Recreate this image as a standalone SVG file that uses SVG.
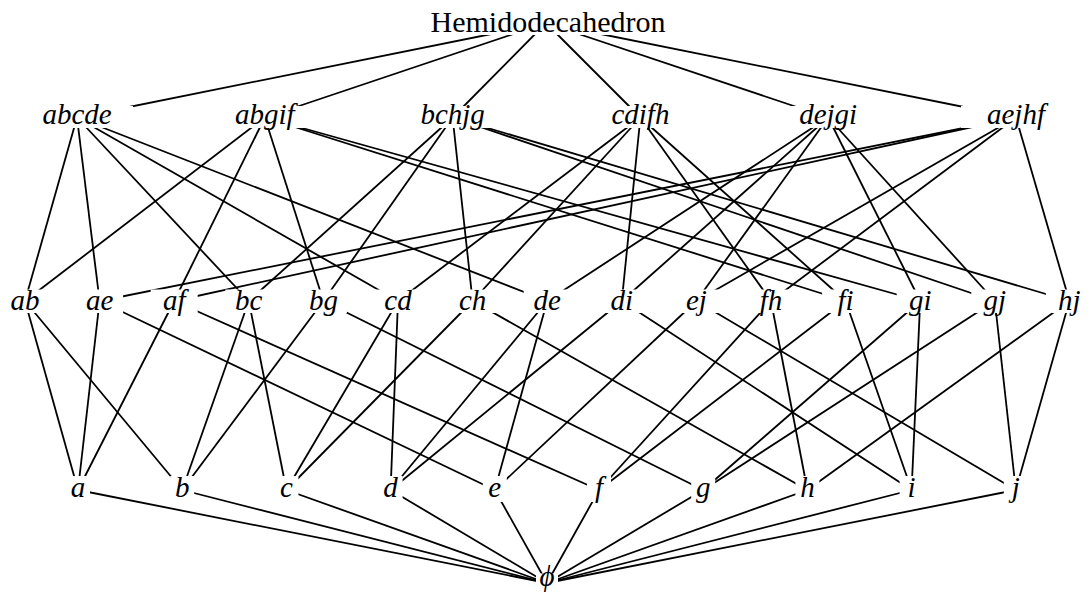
<svg xmlns="http://www.w3.org/2000/svg" width="1088" height="596" viewBox="0 0 1088 596">
<style>
.c line{stroke:#000;stroke-width:1.8;stroke-linecap:butt}
rect.bg{fill:#fff;stroke:none}
text{font-family:"Liberation Serif","Times New Roman",serif;font-size:29px;text-anchor:middle;fill:#000}
text.it{font-style:italic}
</style>
<rect width="1088" height="596" fill="#fff"/>
<g id="connectors" class="c">
<!-- top to faces -->
<line x1="546" y1="23" x2="77" y2="117.5"/>
<line x1="546" y1="23" x2="264.8" y2="117.5"/>
<line x1="546" y1="23" x2="452.6" y2="117.5"/>
<line x1="546" y1="23" x2="640.4" y2="117.5"/>
<line x1="546" y1="23" x2="828.2" y2="117.5"/>
<line x1="546" y1="23" x2="1016" y2="117.5"/>
<!-- abcde -->
<line x1="77" y1="117.5" x2="25" y2="301"/>
<line x1="77" y1="117.5" x2="99.6" y2="301"/>
<line x1="77" y1="117.5" x2="248.8" y2="301"/>
<line x1="77" y1="117.5" x2="398" y2="301"/>
<line x1="77" y1="117.5" x2="547.2" y2="301"/>
<!-- abgif -->
<line x1="264.8" y1="117.5" x2="25" y2="301"/>
<line x1="264.8" y1="117.5" x2="174.2" y2="301"/>
<line x1="264.8" y1="117.5" x2="323.4" y2="301"/>
<line x1="264.8" y1="117.5" x2="845.6" y2="301"/>
<line x1="264.8" y1="117.5" x2="920.2" y2="301"/>
<!-- bchjg -->
<line x1="452.6" y1="117.5" x2="248.8" y2="301"/>
<line x1="452.6" y1="117.5" x2="323.4" y2="301"/>
<line x1="452.6" y1="117.5" x2="472.6" y2="301"/>
<line x1="452.6" y1="117.5" x2="994.8" y2="301"/>
<line x1="452.6" y1="117.5" x2="1069.4" y2="301"/>
<!-- cdifh -->
<line x1="640.4" y1="117.5" x2="398" y2="301"/>
<line x1="640.4" y1="117.5" x2="472.6" y2="301"/>
<line x1="640.4" y1="117.5" x2="621.8" y2="301"/>
<line x1="640.4" y1="117.5" x2="771" y2="301"/>
<line x1="640.4" y1="117.5" x2="845.6" y2="301"/>
<!-- dejgi -->
<line x1="828.2" y1="117.5" x2="547.2" y2="301"/>
<line x1="828.2" y1="117.5" x2="621.8" y2="301"/>
<line x1="828.2" y1="117.5" x2="696.4" y2="301"/>
<line x1="828.2" y1="117.5" x2="920.2" y2="301"/>
<line x1="828.2" y1="117.5" x2="994.8" y2="301"/>
<!-- aejhf -->
<line x1="1016" y1="117.5" x2="99.6" y2="301"/>
<line x1="1016" y1="117.5" x2="174.2" y2="301"/>
<line x1="1016" y1="117.5" x2="696.4" y2="301"/>
<line x1="1016" y1="117.5" x2="771" y2="301"/>
<line x1="1016" y1="117.5" x2="1069.4" y2="301"/>
<!-- edges to vertices -->
<line x1="25" y1="301" x2="78" y2="490"/>
<line x1="25" y1="301" x2="182.2" y2="490"/>
<line x1="99.6" y1="301" x2="78" y2="490"/>
<line x1="99.6" y1="301" x2="494.8" y2="490"/>
<line x1="174.2" y1="301" x2="78" y2="490"/>
<line x1="174.2" y1="301" x2="599" y2="490"/>
<line x1="248.8" y1="301" x2="182.2" y2="490"/>
<line x1="248.8" y1="301" x2="286.4" y2="490"/>
<line x1="323.4" y1="301" x2="182.2" y2="490"/>
<line x1="323.4" y1="301" x2="703.2" y2="490"/>
<line x1="398" y1="301" x2="286.4" y2="490"/>
<line x1="398" y1="301" x2="390.6" y2="490"/>
<line x1="472.6" y1="301" x2="286.4" y2="490"/>
<line x1="472.6" y1="301" x2="807.4" y2="490"/>
<line x1="547.2" y1="301" x2="390.6" y2="490"/>
<line x1="547.2" y1="301" x2="494.8" y2="490"/>
<line x1="621.8" y1="301" x2="390.6" y2="490"/>
<line x1="621.8" y1="301" x2="911.6" y2="490"/>
<line x1="696.4" y1="301" x2="494.8" y2="490"/>
<line x1="696.4" y1="301" x2="1015.8" y2="490"/>
<line x1="771" y1="301" x2="599" y2="490"/>
<line x1="771" y1="301" x2="807.4" y2="490"/>
<line x1="845.6" y1="301" x2="599" y2="490"/>
<line x1="845.6" y1="301" x2="911.6" y2="490"/>
<line x1="920.2" y1="301" x2="703.2" y2="490"/>
<line x1="920.2" y1="301" x2="911.6" y2="490"/>
<line x1="994.8" y1="301" x2="703.2" y2="490"/>
<line x1="994.8" y1="301" x2="1015.8" y2="490"/>
<line x1="1069.4" y1="301" x2="807.4" y2="490"/>
<line x1="1069.4" y1="301" x2="1015.8" y2="490"/>
<!-- vertices to phi -->
<line x1="78" y1="490" x2="547" y2="583"/>
<line x1="182.2" y1="490" x2="547" y2="583"/>
<line x1="286.4" y1="490" x2="547" y2="583"/>
<line x1="390.6" y1="490" x2="547" y2="583"/>
<line x1="494.8" y1="490" x2="547" y2="583"/>
<line x1="599" y1="490" x2="547" y2="583"/>
<line x1="703.2" y1="490" x2="547" y2="583"/>
<line x1="807.4" y1="490" x2="547" y2="583"/>
<line x1="911.6" y1="490" x2="547" y2="583"/>
<line x1="1015.8" y1="490" x2="547" y2="583"/>
</g>
<g id="top"><rect class="bg" x="426" y="8" width="244" height="27"/><text x="548" y="32" style="font-size:30px">Hemidodecahedron</text></g>
<g id="abcde"><rect class="bg" x="21" y="106" width="112" height="22"/><text class="it" x="77" y="123.5">abcde</text></g>
<g id="abgif"><rect class="bg" x="208.8" y="106" width="112" height="22"/><text class="it" x="264.8" y="123.5">abgif</text></g>
<g id="bchjg"><rect class="bg" x="396.6" y="106" width="112" height="22"/><text class="it" x="452.6" y="123.5">bchjg</text></g>
<g id="cdifh"><rect class="bg" x="584.4" y="106" width="112" height="22"/><text class="it" x="640.4" y="123.5">cdifh</text></g>
<g id="dejgi"><rect class="bg" x="772.2" y="106" width="112" height="22"/><text class="it" x="828.2" y="123.5">dejgi</text></g>
<g id="aejhf"><rect class="bg" x="961" y="106" width="110" height="22"/><text class="it" x="1016" y="123.5">aejhf</text></g>
<g id="ab"><rect class="bg" x="1.5" y="289.5" width="47" height="23.5"/><text class="it" x="25" y="310">ab</text></g>
<g id="ae"><rect class="bg" x="76.1" y="289.5" width="47" height="23.5"/><text class="it" x="99.6" y="310">ae</text></g>
<g id="af"><rect class="bg" x="150.7" y="289.5" width="47" height="23.5"/><text class="it" x="174.2" y="310">af</text></g>
<g id="bc"><rect class="bg" x="225.3" y="289.5" width="47" height="23.5"/><text class="it" x="248.8" y="310">bc</text></g>
<g id="bg"><rect class="bg" x="299.9" y="289.5" width="47" height="23.5"/><text class="it" x="323.4" y="310">bg</text></g>
<g id="cd"><rect class="bg" x="374.5" y="289.5" width="47" height="23.5"/><text class="it" x="398" y="310">cd</text></g>
<g id="ch"><rect class="bg" x="449.1" y="289.5" width="47" height="23.5"/><text class="it" x="472.6" y="310">ch</text></g>
<g id="de"><rect class="bg" x="523.7" y="289.5" width="47" height="23.5"/><text class="it" x="547.2" y="310">de</text></g>
<g id="di"><rect class="bg" x="598.3" y="289.5" width="47" height="23.5"/><text class="it" x="621.8" y="310">di</text></g>
<g id="ej"><rect class="bg" x="672.9" y="289.5" width="47" height="23.5"/><text class="it" x="696.4" y="310">ej</text></g>
<g id="fh"><rect class="bg" x="747.5" y="289.5" width="47" height="23.5"/><text class="it" x="771" y="310">fh</text></g>
<g id="fi"><rect class="bg" x="822.1" y="289.5" width="47" height="23.5"/><text class="it" x="845.6" y="310">fi</text></g>
<g id="gi"><rect class="bg" x="896.7" y="289.5" width="47" height="23.5"/><text class="it" x="920.2" y="310">gi</text></g>
<g id="gj"><rect class="bg" x="971.3" y="289.5" width="47" height="23.5"/><text class="it" x="994.8" y="310">gj</text></g>
<g id="hj"><rect class="bg" x="1045.9" y="289.5" width="47" height="23.5"/><text class="it" x="1069.4" y="310">hj</text></g>
<g id="a"><rect class="bg" x="66" y="476" width="24" height="26"/><text class="it" x="78" y="497">a</text></g>
<g id="b"><rect class="bg" x="170.2" y="476" width="24" height="26"/><text class="it" x="182.2" y="497">b</text></g>
<g id="c"><rect class="bg" x="274.4" y="476" width="24" height="26"/><text class="it" x="286.4" y="497">c</text></g>
<g id="d"><rect class="bg" x="378.6" y="476" width="24" height="26"/><text class="it" x="390.6" y="497">d</text></g>
<g id="e"><rect class="bg" x="482.8" y="476" width="24" height="26"/><text class="it" x="494.8" y="497">e</text></g>
<g id="f"><rect class="bg" x="587" y="476" width="24" height="26"/><text class="it" x="599" y="497">f</text></g>
<g id="g"><rect class="bg" x="691.2" y="476" width="24" height="26"/><text class="it" x="703.2" y="497">g</text></g>
<g id="h"><rect class="bg" x="795.4" y="476" width="24" height="26"/><text class="it" x="807.4" y="497">h</text></g>
<g id="i"><rect class="bg" x="899.6" y="476" width="24" height="26"/><text class="it" x="911.6" y="497">i</text></g>
<g id="j"><rect class="bg" x="1003.8" y="476" width="24" height="26"/><text class="it" x="1015.8" y="497">j</text></g>
<g id="phi"><rect class="bg" x="536" y="573.5" width="22" height="22.5"/><text class="it" x="547" y="586">ϕ</text></g>
</svg>
